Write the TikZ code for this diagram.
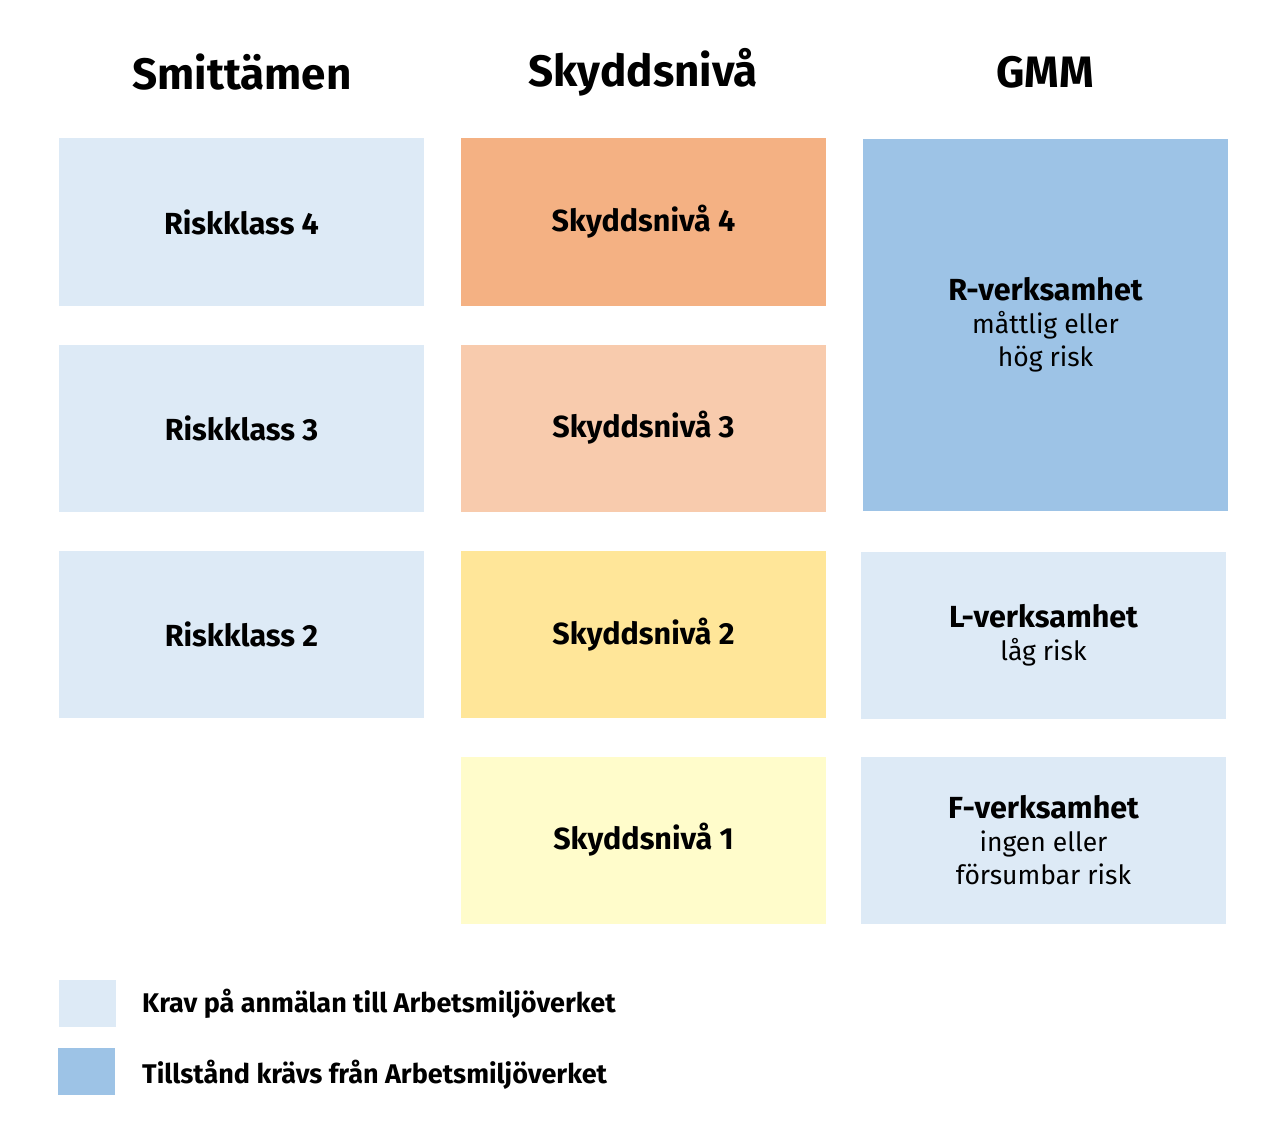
\documentclass[tikz,border=0pt]{standalone}
\usepackage{fontspec}
\setmainfont{Fira Sans}
\definecolor{lightblue}{HTML}{DDEAF6}
\definecolor{rblue}{HTML}{9DC3E6}
\definecolor{sn4}{HTML}{F4B183}
\definecolor{sn3}{HTML}{F8CBAD}
\definecolor{sn2}{HTML}{FFE699}
\definecolor{sn1}{HTML}{FFFCCB}
\newcommand\subtxt[1]{{\fontsize{26.5}{33}\selectfont\mdseries #1}}
\tikzset{
  cell/.style={rectangle, inner sep=0pt, minimum width=365pt, minimum height=167pt, align=center, font=\fontsize{30.5}{33}\selectfont\bfseries},
  title/.style={font=\fontsize{44}{50}\selectfont\bfseries},
  legbox/.style={rectangle, inner sep=0pt, minimum width=57pt, minimum height=47pt},
  legtext/.style={anchor=west, inner sep=0pt, font=\fontsize{27}{30}\selectfont\bfseries},
}
\begin{document}
\begin{tikzpicture}[x=1pt,y=-1pt]
\useasboundingbox[fill=white] (0,0) rectangle (1280,1142);
\node[title] (t1) at (242,72) {Smittämen};
\node[title] (t2) at (643,72) {Skyddsnivå};
\node[title] (t3) at (1045,72) {GMM};

\node[cell, fill=lightblue] (rk4) at (241.5,222) {Riskklass 4};
\node[cell, fill=lightblue] (rk3) at (241.5,428) {Riskklass 3};
\node[cell, fill=lightblue] (rk2) at (241.5,634.5) {Riskklass 2};

\node[cell, fill=sn4] (s4) at (643.5,222) {Skyddsnivå 4};
\node[cell, fill=sn3] (s3) at (643.5,428) {Skyddsnivå 3};
\node[cell, fill=sn2] (s2) at (643.5,634.5) {Skyddsnivå 2};
\node[cell, fill=sn1] (s1) at (643.5,840) {Skyddsnivå 1};

\node[cell, fill=rblue, minimum height=372pt] (r) at (1045.5,325) {R-verksamhet\\\subtxt{måttlig eller}\\\subtxt{hög risk}};
\node[cell, fill=lightblue] (l) at (1043.5,635) {L-verksamhet\\\subtxt{låg risk}};
\node[cell, fill=lightblue] (f) at (1043.5,840.5) {F-verksamhet\\\subtxt{ingen eller}\\\subtxt{försumbar risk}};

\node[legbox, fill=lightblue] (lb1) at (87.5,1003.5) {};
\node[legbox, fill=rblue] (lb2) at (86.5,1071.5) {};
\node[legtext] (lt1) at (142,1003.5) {Krav på anmälan till Arbetsmiljöverket};
\node[legtext] (lt2) at (142,1075) {Tillstånd krävs från Arbetsmiljöverket};
\end{tikzpicture}
\end{document}
